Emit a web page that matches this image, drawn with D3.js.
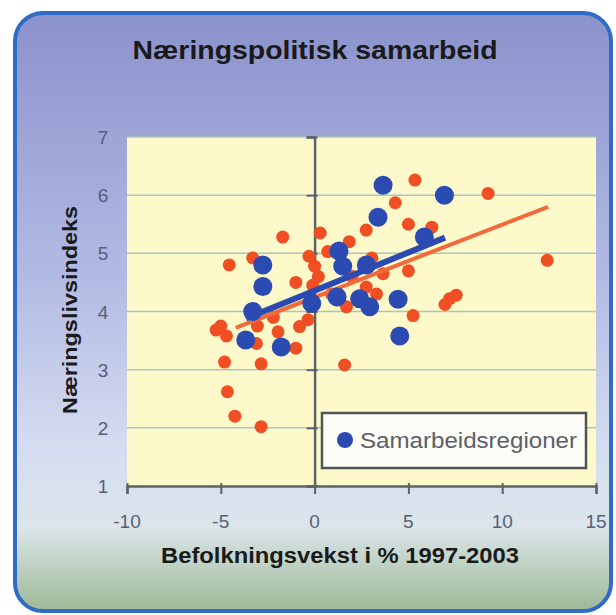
<!DOCTYPE html>
<html>
<head>
<meta charset="utf-8">
<script src="https://cdn.jsdelivr.net/npm/d3@7"></script>
<style>
  body { margin: 0; background: #fff; }
  text { font-family: "Liberation Sans", Arial, sans-serif; }
</style>
</head>
<body>
<div id="chart"></div>
<script>
// all regions (red) and cooperation regions (blue), [growth %, index]
const regions = [
  [-1.7, 5.28], [0.3, 5.35], [-4.55, 4.8], [-3.3, 4.92], [-1.0, 4.5], [0, 4.78],
  [0.7, 5.03], [-5.25, 3.68], [-4.7, 3.58], [-1.95, 3.65], [-0.8, 3.74], [-0.35, 3.86],
  [-1.0, 3.37], [-4.8, 3.13], [-2.85, 3.1], [-3.05, 3.75], [5.35, 6.26], [4.3, 5.87],
  [2.75, 5.4], [1.85, 5.2], [5.0, 5.5], [6.25, 5.45], [5.0, 4.7], [3.65, 4.65],
  [3.05, 4.92], [2.75, 4.42], [1.7, 4.08], [5.25, 3.93], [7.2, 4.22], [7.55, 4.28],
  [6.95, 4.12], [9.25, 6.03], [12.4, 4.88], [1.6, 3.08], [-4.65, 2.62], [-4.25, 2.2],
  [-2.85, 2.02], [-3.1, 3.45], [-0.1, 4.45], [0.2, 4.6], [-5.0, 3.75], [0.9, 4.3],
  [3.3, 4.3], [2.0, 4.6], [-0.3, 4.95], [-2.2, 3.9]
];
const cooperation = [
  [3.65, 6.17], [6.92, 6.0], [3.38, 5.62], [5.85, 5.28], [1.3, 5.04], [1.5, 4.78],
  [2.76, 4.8], [1.2, 4.25], [2.4, 4.22], [2.94, 4.08], [4.45, 4.21], [4.54, 3.58],
  [-2.76, 4.8], [-2.76, 4.43], [-3.3, 4.0], [-3.67, 3.51], [-1.78, 3.39], [-0.15, 4.14]
];
const regionsTrend = [[-4.2, 3.72], [12.45, 5.8]];
const cooperationTrend = [[-3.65, 3.88], [6.95, 5.27]];

const xTicks = [-10, -5, 0, 5, 10, 15];
const yTicks = [1, 2, 3, 4, 5, 6, 7];

const width = 616, height = 615;

const svg = d3.select('#chart')
  .append('svg')
  .attr('width', width)
  .attr('height', height);

const defs = svg.append('defs');
const bg = defs.append('linearGradient')
  .attr('id', 'bg')
  .attr('x1', 0).attr('y1', 0).attr('x2', 0).attr('y2', 1);
[['0%', '#8b92cc'], ['45%', '#b3bbe4'], ['72%', '#d4dcf0'], ['86%', '#dbe5ea'], ['100%', '#9db896']]
  .forEach(s => bg.append('stop').attr('offset', s[0]).attr('stop-color', s[1]));

svg.append('rect')
  .attr('x', 15).attr('y', 13)
  .attr('width', 596).attr('height', 598)
  .attr('rx', 28)
  .attr('fill', 'url(#bg)')
  .attr('stroke', '#2e6cc6')
  .attr('stroke-width', 4);

const x = d3.scaleLinear().domain([-10, 15]).range([127, 596]);
const y = d3.scaleLinear().domain([1, 7]).range([486, 137]);

// plot area
svg.append('rect')
  .attr('x', x(-10)).attr('y', y(7))
  .attr('width', x(15) - x(-10)).attr('height', y(1) - y(7))
  .attr('fill', '#fdf9cb');

svg.append('g')
  .selectAll('line')
  .data(yTicks.slice(1))
  .join('line')
  .attr('x1', x(-10)).attr('x2', x(15))
  .attr('y1', d => y(d)).attr('y2', d => y(d))
  .attr('stroke', '#a9c6bd')
  .attr('stroke-width', 1.5);

// y axis sits at x = 0
const yAxis = svg.append('g')
  .attr('transform', 'translate(' + x(0) + ',0)')
  .call(d3.axisLeft(y).tickValues(yTicks).tickSize(8).tickFormat(''));
yAxis.select('.domain').attr('stroke', '#5b6366').attr('stroke-width', 2.5);
yAxis.selectAll('.tick line').attr('stroke', '#5b6366').attr('stroke-width', 2).attr('x2', -8).attr('x1', 3);

const xAxis = svg.append('g')
  .attr('transform', 'translate(0,' + y(1) + ')')
  .call(d3.axisBottom(x).tickValues(xTicks).tickSize(8).tickFormat(''));
xAxis.select('.domain').attr('stroke', '#5b6366').attr('stroke-width', 2.5);
xAxis.selectAll('.tick line').attr('stroke', '#5b6366').attr('stroke-width', 2).attr('y1', -3);

svg.append('g')
  .selectAll('text')
  .data(yTicks)
  .join('text')
  .attr('x', 103)
  .attr('y', d => y(d) + 7)
  .attr('text-anchor', 'middle')
  .attr('font-size', 19)
  .attr('fill', '#56607a')
  .text(d => d);

svg.append('g')
  .selectAll('text')
  .data(xTicks)
  .join('text')
  .attr('x', d => x(d))
  .attr('y', 528)
  .attr('text-anchor', 'middle')
  .attr('font-size', 19)
  .attr('fill', '#56607a')
  .text(d => d);

// points
svg.append('g')
  .selectAll('circle')
  .data(regions)
  .join('circle')
  .attr('cx', d => x(d[0]))
  .attr('cy', d => y(d[1]))
  .attr('r', 6.5)
  .attr('fill', '#f04e23');

svg.append('line')
  .attr('x1', x(regionsTrend[0][0])).attr('y1', y(regionsTrend[0][1]))
  .attr('x2', x(regionsTrend[1][0])).attr('y2', y(regionsTrend[1][1]))
  .attr('stroke', '#f36a3a')
  .attr('stroke-width', 4);

svg.append('g')
  .selectAll('circle')
  .data(cooperation)
  .join('circle')
  .attr('cx', d => x(d[0]))
  .attr('cy', d => y(d[1]))
  .attr('r', 9.5)
  .attr('fill', '#2b4bb2');

svg.append('line')
  .attr('x1', x(cooperationTrend[0][0])).attr('y1', y(cooperationTrend[0][1]))
  .attr('x2', x(cooperationTrend[1][0])).attr('y2', y(cooperationTrend[1][1]))
  .attr('stroke', '#2b4bb2')
  .attr('stroke-width', 6);

// legend
const legend = svg.append('g');
legend.append('rect')
  .attr('x', 322).attr('y', 413)
  .attr('width', 264).attr('height', 55)
  .attr('fill', '#fdfdf8')
  .attr('stroke', '#4f5656')
  .attr('stroke-width', 2.5);
legend.append('circle')
  .attr('cx', 345).attr('cy', 440)
  .attr('r', 8)
  .attr('fill', '#2b4bb2');
legend.append('text')
  .attr('x', 360).attr('y', 448)
  .attr('font-size', 22)
  .attr('fill', '#5a6068')
  .attr('textLength', 217)
  .attr('lengthAdjust', 'spacingAndGlyphs')
  .text('Samarbeidsregioner');

// titles
svg.append('text')
  .attr('x', 315).attr('y', 59)
  .attr('text-anchor', 'middle')
  .attr('font-size', 26)
  .attr('font-weight', 'bold')
  .attr('fill', '#1a1a1a')
  .attr('textLength', 365)
  .attr('lengthAdjust', 'spacingAndGlyphs')
  .text('Næringspolitisk samarbeid');

svg.append('text')
  .attr('x', 340).attr('y', 563)
  .attr('text-anchor', 'middle')
  .attr('font-size', 22)
  .attr('font-weight', 'bold')
  .attr('fill', '#1a1a1a')
  .attr('textLength', 358)
  .attr('lengthAdjust', 'spacingAndGlyphs')
  .text('Befolkningsvekst i % 1997-2003');

svg.append('text')
  .attr('transform', 'translate(77,310) rotate(-90)')
  .attr('text-anchor', 'middle')
  .attr('font-size', 21)
  .attr('font-weight', 'bold')
  .attr('fill', '#1a1a1a')
  .attr('textLength', 208)
  .attr('lengthAdjust', 'spacingAndGlyphs')
  .text('Næringslivsindeks');
</script>
</body>
</html>
